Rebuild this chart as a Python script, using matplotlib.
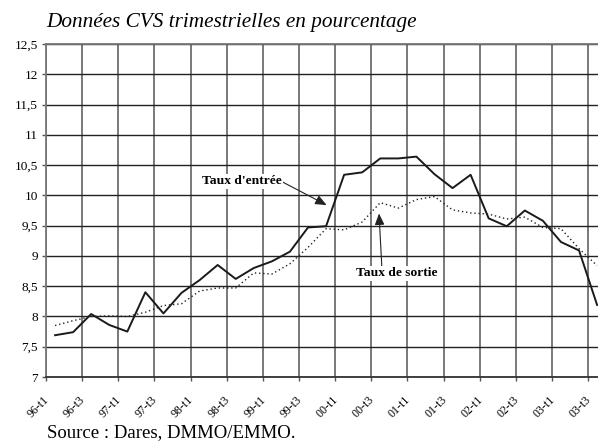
import numpy as np
import matplotlib
matplotlib.use("Agg")
import matplotlib.pyplot as plt
from matplotlib.transforms import ScaledTranslation

plt.rcParams["font.family"] = ["Liberation Serif", "DejaVu Serif"]

# quarters 96-t1 .. 03-t3
quarters = ["96-t1", "96-t2", "96-t3", "96-t4", "97-t1", "97-t2", "97-t3", "97-t4",
            "98-t1", "98-t2", "98-t3", "98-t4", "99-t1", "99-t2", "99-t3", "99-t4",
            "00-t1", "00-t2", "00-t3", "00-t4", "01-t1", "01-t2", "01-t3", "01-t4",
            "02-t1", "02-t2", "02-t3", "02-t4", "03-t1", "03-t2", "03-t3"]

taux_entree = [7.69, 7.74, 8.04, 7.86, 7.75, 8.40, 8.05, 8.39,
               8.60, 8.85, 8.62, 8.80, 8.91, 9.07, 9.47, 9.49,
               10.34, 10.38, 10.61, 10.61, 10.64, 10.35, 10.12, 10.34,
               9.62, 9.49, 9.75, 9.58, 9.23, 9.09, 8.19]

taux_sortie = [7.85, 7.93, 8.00, 8.01, 8.00, 8.07, 8.18, 8.21,
               8.42, 8.47, 8.47, 8.72, 8.70, 8.87, 9.14, 9.45,
               9.43, 9.56, 9.88, 9.79, 9.93, 9.98, 9.76, 9.71,
               9.69, 9.61, 9.64, 9.47, 9.45, 9.12, 8.84]

xlabels = ["96-t1", "96-t3", "97-t1", "97-t3", "98-t1", "98-t3", "99-t1", "99-t3",
           "00-t1", "00-t3", "01-t1", "01-t3", "02-t1", "02-t3", "03-t1", "03-t3"]
yticks = [7, 7.5, 8, 8.5, 9, 9.5, 10, 10.5, 11, 11.5, 12, 12.5]
ylabels = ["7", "7,5", "8", "8,5", "9", "9,5", "10", "10,5", "11", "11,5", "12", "12,5"]

fig = plt.figure(figsize=(5.98, 4.41), dpi=100)
ax = fig.add_axes([46 / 598, 64 / 441, 552 / 598, 333 / 441])

x = np.arange(len(quarters))
ax.plot(x, taux_entree, color="#1a1a1a", lw=1.4, zorder=3)
ax.plot(x, taux_sortie, color="#222222", lw=1.0, ls=(0, (1.0, 2.0)), zorder=3)

ax.set_xlim(-0.5, 30.05)
ax.set_ylim(7, 12.5)

# gridlines: category boundaries every 2 quarters
bounds = np.arange(len(xlabels)) * 2 - 0.5
ax.set_xticks(bounds)
ax.set_xticklabels(xlabels, rotation=45, ha="right", va="top",
                   rotation_mode="anchor", fontsize=8.6)
ax.set_yticks(yticks)
ax.set_yticklabels(ylabels, fontsize=9.5)
ax.grid(axis="x", color="#6e6e6e", lw=1.3)
ax.grid(axis="y", color="#222222", lw=1.0)
ax.set_axisbelow(True)
ax.tick_params(axis="x", length=3, width=1, color="#555555", pad=9)
ax.tick_params(axis="y", length=3, width=1, color="#555555", pad=3)

for side in ["left", "top"]:
    ax.spines[side].set_color("#777777")
    ax.spines[side].set_linewidth(1.3)
ax.spines["bottom"].set_color("#333333")
ax.spines["bottom"].set_linewidth(1.3)
ax.spines["right"].set_visible(False)

for lab in ax.get_xticklabels():
    lab.set_transform(lab.get_transform() + ScaledTranslation(-3 / 100, 0, fig.dpi_scale_trans))

bbox = dict(boxstyle="square,pad=0.1", fc="white", ec="none")
ax.annotate("Taux d'entrée", xy=(15.03, 9.84), xytext=(8.12, 10.23),
            ha="left", va="center", fontsize=9.7, fontweight="bold", bbox=bbox,
            arrowprops=dict(arrowstyle="-|>,head_length=0.7,head_width=0.3",
                            color="#222222", lw=0.8, relpos=(1, 0.5),
                            shrinkA=0, shrinkB=0), zorder=4)
ax.annotate("Taux de sortie", xy=(17.93, 9.70), xytext=(18.9, 8.71),
            ha="center", va="center", fontsize=9.7, fontweight="bold", bbox=bbox,
            arrowprops=dict(arrowstyle="-|>,head_length=0.7,head_width=0.3",
                            color="#222222", lw=0.8, relpos=(0.32, 1),
                            shrinkA=0, shrinkB=0), zorder=4)

fig.text(46 / 598, 1 - 27 / 441, "Données CVS trimestrielles en pourcentage",
         fontsize=15.3, style="italic", ha="left", va="baseline")
fig.text(47 / 598, 1 - 437 / 441, "Source : Dares, DMMO/EMMO.",
         fontsize=13.5, ha="left", va="baseline")

fig.savefig("out.png", dpi=100)
